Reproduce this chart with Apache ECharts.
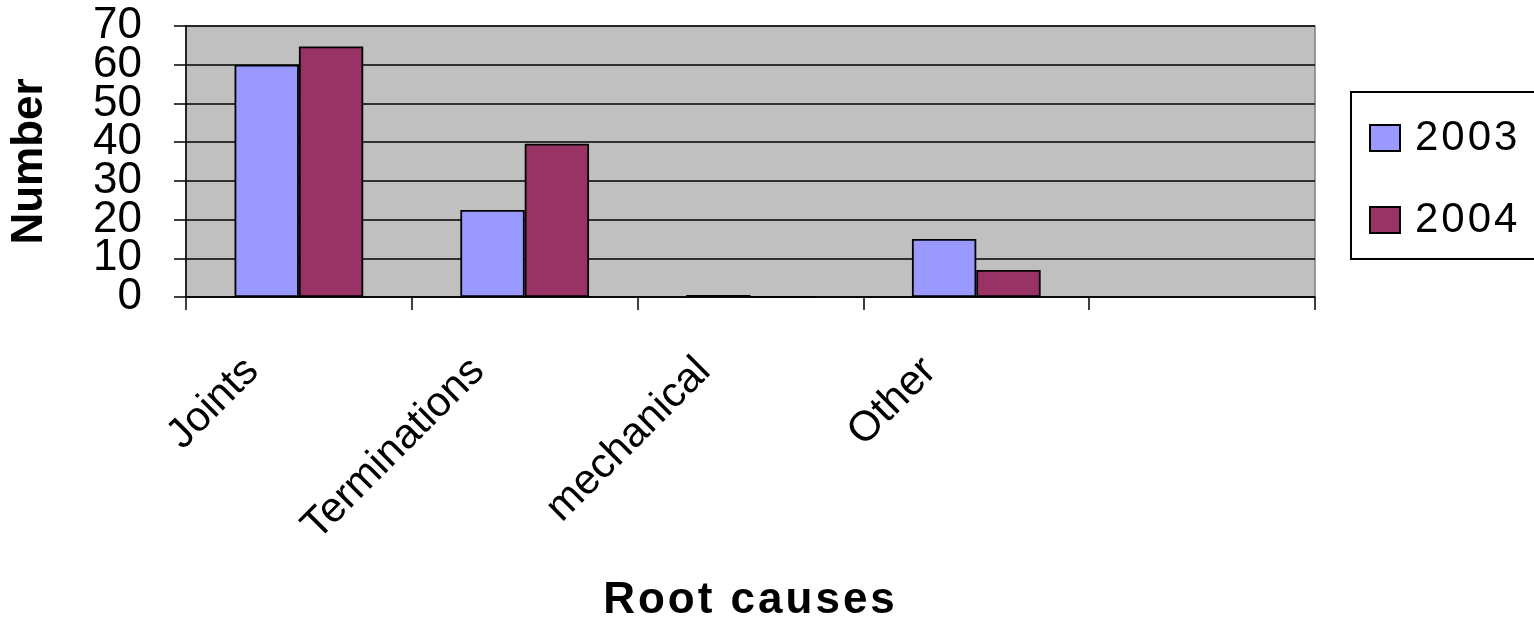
<!DOCTYPE html>
<html>
<head>
<meta charset="utf-8">
<script src="https://cdn.jsdelivr.net/npm/echarts@6/dist/echarts.min.js"></script>
<style>
html,body{margin:0;padding:0;background:#fff;}
#chart{width:1534px;height:617px;}
</style>
</head>
<body>
<div id="chart"></div>
<script>
const categories = ['Joints', 'Terminations', 'mechanical', 'Other', ''];
const seriesNames = ['2003', '2004'];
const values2003 = [60, 22.5, 0.5, 15, null];
const values2004 = [64.7, 39.6, 0, 7, null];
const yTicks = { min: 0, max: 70, interval: 10 };
const yLabelsEven = [0, 20, 40, 60];
const yLabelsOdd = [10, 30, 50, 70];

// letter spacing for a few spaced-out texts (canvas native letterSpacing)
const spacing = { 'Root causes': '3px', '2003': '3px', '2004': '3px' };
const origFill = CanvasRenderingContext2D.prototype.fillText;
CanvasRenderingContext2D.prototype.fillText = function (t, x, y, w) {
  const has = 'letterSpacing' in this;
  if (has) this.letterSpacing = spacing[t] || '0px';
  if (w === undefined) origFill.call(this, t, x, y); else origFill.call(this, t, x, y, w);
  if (has) this.letterSpacing = '0px';
};

const FONT = '"Liberation Sans", Arial, sans-serif';
const yLabelStyle = { fontSize: 44, color: '#000', margin: 44, fontFamily: FONT, hideOverlap: false };
const chart = echarts.init(document.getElementById('chart'), null, { renderer: 'canvas' });
chart.setOption({
  animation: false,
  backgroundColor: '#ffffff',
  textStyle: { fontFamily: FONT, color: '#000' },
  grid: {
    left: 186, right: 219, top: 26, bottom: 320,
    containLabel: false, outerBoundsMode: 'none',
    show: true, backgroundColor: '#c0c0c0', borderColor: '#808080', borderWidth: 1.5
  },
  legend: {
    orient: 'vertical', left: 1351, top: 92,
    padding: [25, 40, 18, 18],
    itemWidth: 30, itemHeight: 26, itemGap: 40,
    icon: 'rect',
    borderColor: '#000', borderWidth: 2,
    textStyle: { fontSize: 42, lineHeight: 26, color: '#000', fontFamily: FONT, padding: [0, 0, 0, 10] },
    data: seriesNames
  },
  xAxis: {
    type: 'category',
    data: categories,
    boundaryGap: true,
    name: 'Root causes',
    nameLocation: 'middle',
    nameGap: 282,
    nameTextStyle: { fontSize: 44, fontWeight: 'bold', color: '#000', fontFamily: FONT },
    axisLine: { lineStyle: { color: '#000', width: 1.5 } },
    axisTick: { show: true, length: 13, lineStyle: { color: '#000', width: 1.5 } },
    axisLabel: {
      interval: 0, rotate: 45, fontSize: 42, color: '#000', fontFamily: FONT,
      margin: 21, padding: [0, 66, 0, 0], hideOverlap: false
    },
    splitLine: { show: false }
  },
  yAxis: [
    {
      type: 'value', position: 'left',
      min: yTicks.min, max: yTicks.max, interval: yTicks.interval,
      name: 'Number',
      nameLocation: 'middle',
      nameGap: 134,
      nameTextStyle: { fontSize: 44, fontWeight: 'bold', color: '#000', fontFamily: FONT },
      axisLine: { show: true, lineStyle: { color: '#000', width: 1.5 } },
      axisTick: { show: true, length: 12, lineStyle: { color: '#000', width: 1.5 } },
      axisLabel: Object.assign({ customValues: yLabelsEven }, yLabelStyle),
      splitLine: { show: true, lineStyle: { color: '#000', width: 1.5 } }
    },
    {
      type: 'value', position: 'left', offset: 0,
      min: yTicks.min, max: yTicks.max, interval: yTicks.interval,
      axisLine: { show: false },
      axisTick: { show: false },
      axisLabel: Object.assign({ customValues: yLabelsOdd }, yLabelStyle),
      splitLine: { show: false }
    }
  ],
  series: [
    {
      name: seriesNames[0], type: 'bar', data: values2003,
      barGap: '0%', barCategoryGap: '43%',
      itemStyle: { color: '#9999ff', borderColor: '#000', borderWidth: 1.8 }
    },
    {
      name: seriesNames[1], type: 'bar', data: values2004,
      barGap: '0%', barCategoryGap: '43%',
      itemStyle: { color: '#993366', borderColor: '#000', borderWidth: 1.8 }
    }
  ]
});
</script>
</body>
</html>
